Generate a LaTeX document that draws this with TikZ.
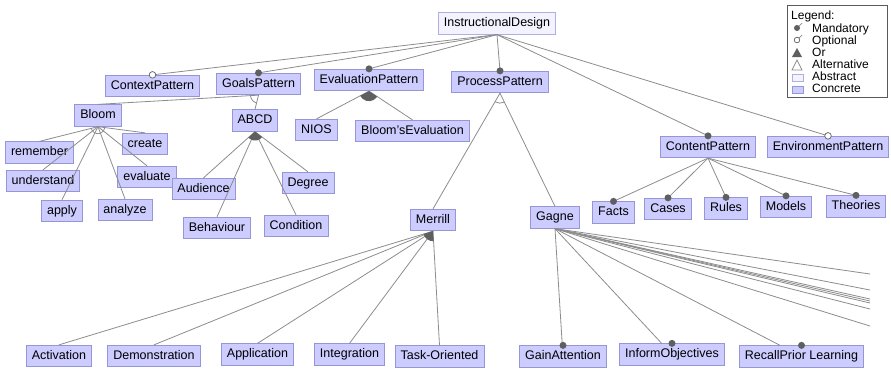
\documentclass[tikz,border=0pt]{standalone}
\usepackage{fontspec}
\setmainfont{Liberation Sans}
\usetikzlibrary{calc}
\definecolor{concfill}{RGB}{204,204,255}
\definecolor{concdraw}{RGB}{150,150,215}
\definecolor{absfill}{RGB}{243,243,255}
\definecolor{absdraw}{RGB}{175,175,225}
\definecolor{edgec}{RGB}{140,140,140}
\definecolor{dotc}{RGB}{95,95,95}
\definecolor{legc}{RGB}{90,90,90}
\newcommand\orsector[4]{% parent, left child, right child, radius
  \fill[dotc] let \p1=($(#2.north)-(#1.south)$), \p2=($(#3.north)-(#1.south)$),
     \n1={atan2(\y1,\x1)}, \n2={atan2(\y2,\x2)} in
     (#1.south) -- ++(\n1:#4) arc[start angle=\n1, end angle=\n2, radius=#4] -- cycle;}
\newcommand\altarc[4]{%
  \draw[edgec, line width=0.8pt] let \p1=($(#2.north)-(#1.south)$), \p2=($(#3.north)-(#1.south)$),
     \n1={atan2(\y1,\x1)}, \n2={atan2(\y2,\x2)} in
     ($(#1.south)+(\n1:#4)$) arc[start angle=\n1, end angle=\n2, radius=#4];}
\begin{document}
\begin{tikzpicture}[x=1pt,y=1pt,
  feat/.style={draw=concdraw, fill=concfill, line width=0.8pt,
    font=\fontsize{12.5}{14}\selectfont, inner xsep=5.5pt, inner ysep=0pt,
    minimum height=21.5pt, text height=9pt, text depth=2.5pt},
  absfeat/.style={feat, draw=absdraw, fill=absfill},
  conn/.style={draw=edgec, line width=0.8pt},
  mdot/.style={fill=dotc},
  odot/.style={fill=white, draw=dotc, line width=0.7pt},
  legtext/.style={anchor=west, font=\fontsize{12}{12}\selectfont, inner sep=0pt, text height=8.5pt, text depth=2pt}
]
\useasboundingbox (0,0) rectangle (891,-368);

% ---- nodes ----
\node[absfeat] (root) at (497,-23.5) {InstructionalDesign};
\node[feat] (ctx) at (152.5,-86) {ContextPattern};
\node[feat] (goals) at (258.5,-84) {GoalsPattern};
\node[feat] (eval) at (369,-80) {EvaluationPattern};
\node[feat] (proc) at (500,-82) {ProcessPattern};
\node[feat] (content) at (708,-147) {ContentPattern};
\node[feat] (env) at (828,-147) {EnvironmentPattern};

\node[feat] (bloom) at (98,-115.5) {Bloom};
\node[feat] (abcd) at (255,-120.5) {ABCD};
\node[feat] (nios) at (316.5,-130) {NIOS};
\node[feat] (beval) at (412.5,-131) {Bloom'sEvaluation};

\node[feat] (remember) at (39.5,-152.5) {remember};
\node[feat] (create) at (145,-144) {create};
\node[feat] (understand) at (43,-181) {understand};
\node[feat] (evaluate) at (147,-177) {evaluate};
\node[feat] (apply) at (62,-211) {apply};
\node[feat] (analyze) at (125,-210) {analyze};

\node[feat] (audience) at (203.5,-189) {Audience};
\node[feat] (degree) at (308,-183) {Degree};
\node[feat] (behaviour) at (217,-228) {Behaviour};
\node[feat] (condition) at (296,-226) {Condition};

\node[feat] (merrill) at (433,-220) {Merrill};
\node[feat] (gagne) at (555,-217.5) {Gagne};

\node[feat] (facts) at (613.5,-212.5) {Facts};
\node[feat] (cases) at (668,-209) {Cases};
\node[feat] (rules) at (726,-208.5) {Rules};
\node[feat] (models) at (786,-207) {Models};
\node[feat] (theories) at (856,-206.5) {Theories};

\node[feat] (activation) at (59,-356) {Activation};
\node[feat] (demo) at (154,-356) {Demonstration};
\node[feat] (application) at (257.5,-354.5) {Application};
\node[feat] (integration) at (349.5,-354.5) {Integration};
\node[feat] (task) at (439.5,-356.5) {Task-Oriented};

\node[feat] (gain) at (563,-356.5) {GainAttention};
\node[feat] (inform) at (672,-354.5) {InformObjectives};
\node[feat] (recall) at (801.5,-356.5) {RecallPrior Learning};

\coordinate (g1) at (870,-274);
\coordinate (g2) at (870,-290);
\coordinate (g3) at (870,-299);
\coordinate (g4) at (870,-301);
\coordinate (g5) at (870,-303);
\coordinate (g6) at (870,-309);
\coordinate (g7) at (870,-326);

% ---- connectors ----
\foreach \c in {ctx,goals,eval,proc,content,env} \draw[conn] (root.south) -- (\c.north);
\foreach \c in {bloom,abcd} \draw[conn] (goals.south) -- (\c.north);
\foreach \c in {nios,beval} \draw[conn] (eval.south) -- (\c.north);
\foreach \c in {merrill,gagne} \draw[conn] (proc.south) -- (\c.north);
\foreach \c in {remember,create,understand,evaluate,apply,analyze} \draw[conn] (bloom.south) -- (\c.north);
\foreach \c in {audience,degree,behaviour,condition} \draw[conn] (abcd.south) -- (\c.north);
\foreach \c in {activation,demo,application,integration,task} \draw[conn] (merrill.south) -- (\c.north);
\foreach \c in {gain,inform,recall,g1,g2,g3,g4,g5,g6,g7} \draw[conn] (gagne.south) -- (\c);
\foreach \c in {facts,cases,rules,models,theories} \draw[conn] (content.south) -- (\c.north);

% ---- group decorations ----
\altarc{goals}{bloom}{abcd}{8pt}
\altarc{proc}{merrill}{gagne}{10pt}
\altarc{bloom}{remember}{create}{7pt}
\orsector{eval}{nios}{beval}{10pt}
\orsector{abcd}{audience}{degree}{9pt}
\orsector{merrill}{activation}{task}{10pt}

% ---- feature dots ----
\foreach \c in {goals,eval,proc,content,facts,cases,rules,models,theories,gain,inform,recall}
  \fill[mdot] (\c.north) circle (3.5pt);
\foreach \c in {ctx,env} \filldraw[odot] (\c.north) circle (3.3pt);

% ---- legend ----
\node[draw=legc, line width=0.9pt, minimum width=100pt, minimum height=92pt, inner sep=0pt] (legend) at (837,-51) {};
\node[legtext] (lt) at (791,-16) {Legend:};
\node[legtext] (l1) at (812,-29.5) {Mandatory};
\node[legtext] (l2) at (812,-41.5) {Optional};
\node[legtext] (l3) at (812,-53.5) {Or};
\node[legtext] (l4) at (812,-65.5) {Alternative};
\node[legtext] (l5) at (812,-77.5) {Abstract};
\node[legtext] (l6) at (812,-89.5) {Concrete};
\draw[edgec, line width=0.7pt] (797,-28) -- (802,-23);
\fill[dotc] (797,-28) circle (3pt);
\draw[edgec, line width=0.7pt] (797,-40) -- (802,-35);
\filldraw[odot] (797,-40) circle (2.8pt);
\fill[dotc] (797,-48) -- (802,-57) -- (792,-57) -- cycle;
\draw[edgec, line width=0.7pt] (797,-60) -- (802,-70) -- (792,-70) -- cycle;
\filldraw[fill=absfill, draw=absdraw, line width=0.7pt] (792,-74) rectangle (803,-81);
\filldraw[fill=concfill, draw=concdraw, line width=0.7pt] (792,-86) rectangle (803,-93);
\end{tikzpicture}
\end{document}
